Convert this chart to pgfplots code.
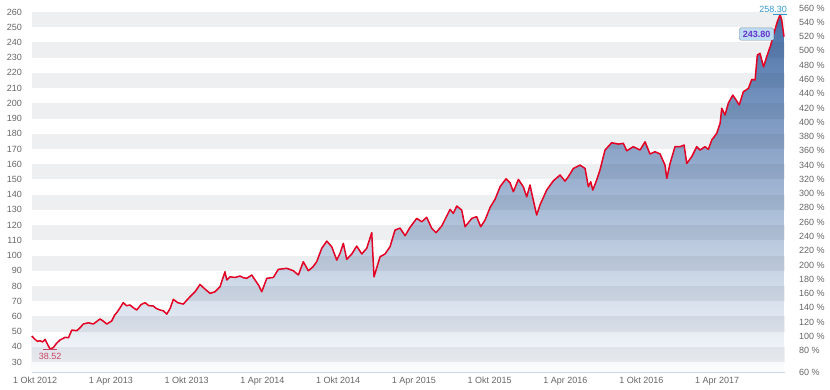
\documentclass[border=0pt]{standalone}
\usepackage{pgfplots}
\pgfplotsset{compat=1.18}
\usepackage{pgfplotstable}
\usepackage{fontspec}
\setmainfont{Liberation Sans}
\definecolor{linered}{RGB}{226,0,36}
\definecolor{tickgray}{RGB}{102,102,102}
\definecolor{axisline}{RGB}{204,214,235}
\definecolor{bandcol}{RGB}{40,50,70}
\definecolor{filltop}{RGB}{72,112,168}
\definecolor{fillbot}{RGB}{252,253,254}
\definecolor{maxblue}{RGB}{51,153,204}
\definecolor{minred}{RGB}{200,70,100}
\definecolor{boxfill}{RGB}{190,220,243}
\definecolor{boxborder}{RGB}{120,135,150}
\definecolor{boxtext}{RGB}{102,51,204}

\pgfplotstableread{
m p
-0.26 47.1
0.00 44.9
0.20 43.6
0.40 44.0
0.60 43.2
0.79 44.9
1.00 41.5
1.19 38.52
1.45 39.5
1.70 42.3
1.98 44.5
2.38 46.2
2.65 46.0
2.91 51.0
3.30 50.6
3.55 52.4
3.82 55.0
4.22 55.8
4.62 55.0
5.15 58.3
5.40 56.9
5.68 55.0
6.07 57.0
6.30 60.8
6.52 63.0
6.99 69.0
7.25 67.0
7.52 67.5
7.80 65.6
8.05 64.2
8.40 67.8
8.71 69.0
9.00 67.1
9.37 66.8
9.60 65.2
9.90 64.2
10.15 63.7
10.43 61.5
10.70 65.3
10.95 71.2
11.30 69.0
11.74 68.1
12.00 70.5
12.27 72.9
12.70 76.5
13.06 81.0
13.45 78.0
13.86 75.1
14.25 76.2
14.65 79.5
15.04 89.3
15.18 83.9
15.44 86.0
15.84 85.6
16.23 86.5
16.50 85.4
16.76 85.0
17.16 87.2
17.42 83.9
17.70 80.5
17.95 76.2
18.35 85.0
18.87 85.6
19.26 90.9
19.93 91.6
20.45 90.0
20.85 87.2
21.24 95.9
21.64 90.0
22.00 92.5
22.30 95.9
22.70 104.7
23.10 109.5
23.49 105.8
23.89 97.0
24.15 101.4
24.41 108.0
24.68 97.5
25.08 101.0
25.47 106.2
25.87 101.0
26.26 104.7
26.66 115.0
26.84 86.0
27.32 99.2
27.71 101.0
28.11 105.8
28.50 116.7
28.90 118.0
29.30 113.0
29.69 118.5
30.22 124.4
30.62 122.2
31.01 125.1
31.41 117.8
31.75 115.0
32.20 119.4
32.86 130.3
33.12 127.7
33.39 132.5
33.78 129.9
34.05 118.9
34.30 121.5
34.58 124.4
34.97 125.5
35.29 118.9
35.63 123.3
36.03 131.6
36.42 136.9
36.82 145.2
37.29 150.4
37.61 147.8
37.87 141.9
38.27 150.0
38.66 145.2
38.93 138.6
39.19 146.3
39.45 136.4
39.72 126.6
39.98 133.2
40.51 143.0
41.04 149.1
41.57 152.9
41.96 148.9
42.22 151.7
42.62 157.2
43.15 159.4
43.55 157.2
43.81 145.2
44.00 148.5
44.16 143.0
44.47 149.6
44.73 156.2
45.13 169.3
45.66 174.1
46.19 173.2
46.58 173.7
46.85 168.8
47.37 171.5
47.90 169.3
48.30 174.7
48.69 166.7
49.09 168.2
49.49 166.7
49.88 159.4
50.02 150.7
50.28 160.5
50.67 171.5
51.07 171.5
51.39 172.6
51.60 160.5
51.99 164.9
52.39 171.5
52.65 169.3
53.05 171.5
53.31 169.7
53.58 175.9
53.97 180.2
54.24 186.8
54.37 196.7
54.63 192.3
54.89 200.0
55.24 205.4
55.42 203.3
55.76 198.9
56.08 207.6
56.48 209.8
56.75 215.7
57.01 215.3
57.19 231.7
57.40 232.8
57.68 224.0
57.93 230.6
58.25 238.3
58.46 244.9
58.77 253.6
58.99 258.3
59.12 254.7
59.30 243.8
}\price

\begin{document}
\fontsize{9}{11}\selectfont
\begin{tikzpicture}
\path[use as bounding box] (0,0) rectangle (830pt,389pt);
\begin{axis}[
  at={(32pt,16.3pt)}, anchor=south west,
  scale only axis, width=753pt, height=366.8pt,
  xmin=-0.24, xmax=59.38, ymin=23, ymax=264,
  xtick={0,6,...,54},
  xticklabels={1 Okt 2012,1 Apr 2013,1 Okt 2013,1 Apr 2014,1 Okt 2014,1 Apr 2015,1 Okt 2015,1 Apr 2016,1 Okt 2016,1 Apr 2017},
  ytick={30,40,...,260},
  axis line style={draw=none},
  major tick length=0pt,
  tick style={draw=none},
  ticklabel style={font=\fontsize{9}{11}\selectfont, text=tickgray},
  /pgf/number format/assume math mode=true,
  yticklabel style={xshift=-7pt},
  xticklabel style={yshift=-1pt},
  clip=false,
]
\addplot[draw=none, top color=filltop, bottom color=fillbot] table[x=m,y=p] {\price}
  -- (axis cs:59.30,23) -- (axis cs:-0.26,23) -- cycle;
\pgfplotsinvokeforeach{30,50,...,250}{
  \fill[bandcol, opacity=0.08] (axis cs:-0.24,#1) rectangle (axis cs:59.38,#1+10);
}
\draw[axisline, line width=1pt] (rel axis cs:0,0) -- (rel axis cs:1,0);
\addplot[linered, line width=1.5pt, line join=round, mark=none] table[x=m,y=p] {\price};
% min marker
\draw[minred, line width=0.7pt] ([xshift=-7pt]axis cs:1.19,38.52) -- ([xshift=7pt]axis cs:1.19,38.52);
\node[text=minred, anchor=north, inner sep=0pt, yshift=-4pt] at (axis cs:1.19,38.52) {38.52};
% max marker
\draw[maxblue, line width=0.7pt] ([xshift=-7pt]axis cs:58.99,258.3) -- ([xshift=7pt]axis cs:58.99,258.3);
\node[text=maxblue, anchor=south east, inner sep=0pt, xshift=7pt, yshift=1.5pt] at (axis cs:58.99,258.3) {258.30};
% last value box
\node[fill=boxfill, draw=boxborder, rounded corners=1.5pt, text=boxtext, font=\bfseries\fontsize{9}{11}\selectfont, inner xsep=3.5pt, inner ysep=3pt, anchor=east, xshift=-10pt, yshift=2.6pt] at (axis cs:59.30,243.8) {243.80};
\end{axis}
\begin{axis}[
  at={(32pt,16.3pt)}, anchor=south west,
  scale only axis, width=753pt, height=366.8pt,
  xmin=-0.24, xmax=59.38, ymin=49.04, ymax=562.9,
  hide x axis,
  axis line style={draw=none},
  major tick length=0pt,
  tick style={draw=none},
  ytick={80,100,...,560},
  yticklabel pos=right,
  yticklabel={\pgfmathprintnumber{\tick} \%},
  ticklabel style={font=\fontsize{9}{11}\selectfont, text=tickgray},
  /pgf/number format/assume math mode=true,
  yticklabel style={xshift=11pt},
  extra y ticks={60},
  extra y tick style={yticklabel style={yshift=-8pt}},
]
\addplot[draw=none] coordinates {(0,100)};
\end{axis}
\end{tikzpicture}
\end{document}
